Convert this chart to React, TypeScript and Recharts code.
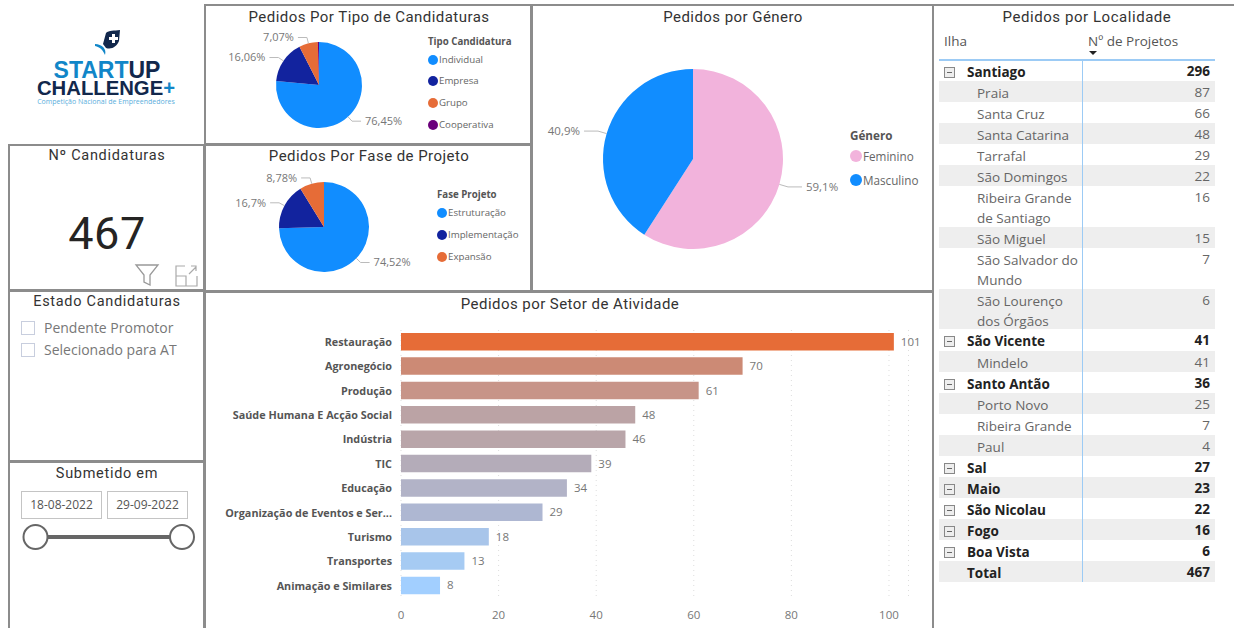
import {
  Bar,
  BarChart,
  CartesianGrid,
  Cell,
  LabelList,
  Legend,
  Pie,
  PieChart,
  XAxis,
  YAxis,
} from 'recharts';

const tipoNames = ['Individual', 'Empresa', 'Grupo', 'Cooperativa'];
const tipoValues = [357, 75, 33, 2];
const tipoLabels = ['76,45%', '16,06%', '7,07%', ''];
const tipoColors = ['#118DFF', '#12239E', '#E66C37', '#6B007B'];

const faseNames = ['Estruturação', 'Implementação', 'Expansão'];
const faseValues = [348, 78, 41];
const faseLabels = ['74,52%', '16,7%', '8,78%'];
const faseColors = ['#118DFF', '#12239E', '#E66C37'];

const generoNames = ['Feminino', 'Masculino'];
const generoValues = [276, 191];
const generoLabels = ['59,1%', '40,9%'];
const generoColors = ['#F2B3DC', '#118DFF'];

const setorNames = [
  'Restauração',
  'Agronegócio',
  'Produção',
  'Saúde Humana E Acção Social',
  'Indústria',
  'TIC',
  'Educação',
  'Organização de Eventos e Ser...',
  'Turismo',
  'Transportes',
  'Animação e Similares',
];
const setorValues = [101, 70, 61, 48, 46, 39, 34, 29, 18, 13, 8];
const setorColors = [
  '#E66C37',
  '#CC8A75',
  '#C79488',
  '#BBA3A5',
  '#B9A5A9',
  '#B4ACB9',
  '#B2B3C7',
  '#AEB7D2',
  '#A8C5EA',
  '#A6CBF3',
  '#A2CFFF',
];
const setorTicks = [0, 20, 40, 60, 80, 100];

const localNames = [
  'Santiago', 'Praia', 'Santa Cruz', 'Santa Catarina', 'Tarrafal', 'São Domingos',
  'Ribeira Grande de Santiago', 'São Miguel', 'São Salvador do Mundo', 'São Lourenço dos Órgãos',
  'São Vicente', 'Mindelo', 'Santo Antão', 'Porto Novo', 'Ribeira Grande', 'Paul',
  'Sal', 'Maio', 'São Nicolau', 'Fogo', 'Boa Vista', 'Total',
];
const localValues = [296, 87, 66, 48, 29, 22, 16, 15, 7, 6, 41, 41, 36, 25, 7, 4, 27, 23, 22, 16, 6, 467];
const ilhas = ['Santiago', 'São Vicente', 'Santo Antão', 'Sal', 'Maio', 'São Nicolau', 'Fogo', 'Boa Vista'];

const titleFont = 'Roboto, sans-serif';
const bodyFont = '"Open Sans", sans-serif';

const toRows = (names: string[], values: number[]) =>
  names.map((name, i) => ({ name, value: values[i] }));

// elbow leader + text, placed from the angle the pie gives us
const pieLabel = (texts: string[], elbow: number, run: number, size: number) => (p: any) => {
  const text = texts[p.index];
  if (!text) return null;
  const rad = (Math.PI / 180) * -p.midAngle;
  const sx = p.cx + p.outerRadius * Math.cos(rad);
  const sy = p.cy + p.outerRadius * Math.sin(rad);
  const ex = p.cx + (p.outerRadius + elbow) * Math.cos(rad);
  const ey = p.cy + (p.outerRadius + elbow) * Math.sin(rad);
  const right = Math.cos(rad) > 0;
  const hx = ex + (right ? run : -run);
  return (
    <g>
      <polyline points={`${sx},${sy} ${ex},${ey} ${hx},${ey}`} fill="none" stroke="#bbb" />
      <text
        x={hx + (right ? 4 : -4)}
        y={ey}
        dy="0.35em"
        textAnchor={right ? 'start' : 'end'}
        fontSize={size}
        fontFamily={bodyFont}
        fill="#777"
      >
        {text}
      </text>
    </g>
  );
};

const PieLegend = ({ title, names, colors, size, gap, titleH }: any) => (
  <div style={{ fontFamily: bodyFont, fontSize: size - 0.3, color: '#666', lineHeight: `${size + 2}px`, whiteSpace: 'nowrap' }}>
    <div style={{ fontWeight: 700, color: '#555', height: titleH }}>{title}</div>
    {names.map((name: string, i: number) => (
      <div key={name} style={{ display: 'flex', alignItems: 'center', height: gap }}>
        <span
          style={{
            width: size,
            height: size,
            borderRadius: '50%',
            background: colors[i],
            marginRight: 1,
          }}
        />
        {name}
      </div>
    ))}
  </div>
);

const PiePanel = (props: any) => {
  const { left, top, width, height, cx, cy, r, names, values, labels, colors, title, legendX, legendY, size, gap, titleH, elbow, run, labelSize } = props;
  return (
    <div style={{ position: 'absolute', left, top }}>
      <PieChart width={width} height={height} margin={{ top: 0, right: 0, bottom: 0, left: 0 }}>
        <Pie
          data={toRows(names, values)}
          dataKey="value"
          nameKey="name"
          cx={cx}
          cy={cy}
          outerRadius={r}
          startAngle={90}
          endAngle={-270}
          stroke="none"
          isAnimationActive={false}
          labelLine={false}
          label={pieLabel(labels, elbow, run, labelSize)}
        >
          {names.map((n: string, i: number) => (
            <Cell key={n} fill={colors[i]} />
          ))}
        </Pie>
        <Legend
          content={() => <PieLegend title={title} names={names} colors={colors} size={size} gap={gap} titleH={titleH} />}
          wrapperStyle={{ position: 'absolute', left: legendX, top: legendY, width: 'auto', bottom: 'auto' }}
        />
      </PieChart>
    </div>
  );
};

const Box = ({ x, y, w, h }: any) => (
  <div
    style={{
      position: 'absolute',
      left: x,
      top: y,
      width: w,
      height: h,
      boxSizing: 'border-box',
      border: '2px solid #8c8c8c',
    }}
  />
);

const Title = ({ cx, y, size = 15, spacing = 0.45, children }: any) => (
  <div
    style={{
      position: 'absolute',
      left: cx - 200,
      top: y - 11,
      width: 400,
      height: 24,
      lineHeight: '24px',
      textAlign: 'center',
      fontFamily: titleFont,
      fontSize: size,
      letterSpacing: spacing,
      color: '#333',
    }}
  >
    {children}
  </div>
);

const Logo = () => (
  <div style={{ position: 'absolute', left: 0, top: 0, width: 204, height: 144 }}>
    <svg width={204} height={144} style={{ position: 'absolute', left: 0, top: 0 }}>
      <path d="M106 33 C109 30 114 31 120 30 L119 41 C117 46 112 50 106 48 L103 44 Z" fill="#12284C" />
      <path d="M112 34 L115 34 L115 37 L118 37 L118 40 L115 40 L115 43 L112 43 L112 40 L109 40 L109 37 L112 37 Z" fill="#ffffff" />
      <path d="M95 44 C102 44 107 49 105 55 C103 50 100 47 95 46 Z" fill="#1186C8" />
    </svg>
    <div style={{ position: 'absolute', left: 0, top: 62, width: 214, textAlign: 'center', fontFamily: '"Liberation Sans", sans-serif', fontWeight: 700, fontSize: 23, lineHeight: '16px', color: '#1186C8' }}>
      START<span style={{ color: '#12284C' }}>UP</span>
    </div>
    <div style={{ position: 'absolute', left: 0, top: 80, width: 212, textAlign: 'center', fontFamily: '"Liberation Sans", sans-serif', fontWeight: 700, fontSize: 20.3, lineHeight: '16px', color: '#12284C' }}>
      CHALLENGE<span style={{ color: '#1186C8' }}>+</span>
    </div>
    <div style={{ position: 'absolute', left: 0, top: 97, width: 212, textAlign: 'center', fontFamily: bodyFont, fontSize: 7, lineHeight: '10px', color: '#5AAEDC' }}>
      Competição Nacional de Empreendedores
    </div>
  </div>
);

const Slicers = () => (
  <>
    {['Pendente Promotor', 'Selecionado para AT'].map((t, i) => (
      <div key={t} style={{ position: 'absolute', left: 21, top: 320 + i * 22, display: 'flex', alignItems: 'center', height: 15, fontFamily: bodyFont, fontSize: 14, color: '#777' }}>
        <span style={{ width: 14, height: 14, boxSizing: 'border-box', border: '1px solid #c8cede', marginRight: 9 }} />
        {t}
      </div>
    ))}
    {['18-08-2022', '29-09-2022'].map((t, i) => (
      <div key={t} style={{ position: 'absolute', left: 21 + i * 86, top: 491, width: 81, height: 28, boxSizing: 'border-box', border: '1px solid #c4c4c4', textAlign: 'center', lineHeight: '26px', fontFamily: bodyFont, fontSize: 12, color: '#555' }}>
        {t}
      </div>
    ))}
    <svg width={204} height={40} style={{ position: 'absolute', left: 0, top: 517 }}>
      <line x1={36} y1={20} x2={182} y2={20} stroke="#666" strokeWidth={4} />
      <circle cx={35.5} cy={20} r={12} fill="#fff" stroke="#666" strokeWidth={2} />
      <circle cx={182} cy={20} r={12} fill="#fff" stroke="#666" strokeWidth={2} />
    </svg>
  </>
);

const Icons = () => (
  <svg width={80} height={30} style={{ position: 'absolute', left: 130, top: 260 }}>
    <path d="M6 5 L28 5 L20 15 L20 25 L14 22 L14 15 Z" fill="none" stroke="#999" strokeWidth={1.3} />
    <path d="M46 16 L46 6 L55 6 M46 16 L56 16 L56 26 M46 16 L46 26 L67 26 L67 16 M59 14 L66 7 M61 6 L66 6 L66 11" fill="none" stroke="#aaa" strokeWidth={1.2} />
  </svg>
);

const rowHeights = (name: string) =>
  ['Ribeira Grande de Santiago', 'São Salvador do Mundo', 'São Lourenço dos Órgãos'].includes(name) ? 40.7 : 21.05;

const LocalTable = () => {
  let y = 60;
  return (
    <div style={{ position: 'absolute', left: 0, top: 0 }}>
      <div style={{ position: 'absolute', left: 944, top: 31, fontFamily: bodyFont, fontSize: 13.5, lineHeight: '20px', color: '#555', whiteSpace: 'nowrap' }}>Ilha</div>
      <div style={{ position: 'absolute', left: 1088, top: 31, fontFamily: bodyFont, fontSize: 13.5, lineHeight: '20px', color: '#555', whiteSpace: 'nowrap' }}>Nº de Projetos</div>
      <div style={{ position: 'absolute', left: 1089, top: 51, width: 0, height: 0, borderLeft: '4px solid transparent', borderRight: '4px solid transparent', borderTop: '4px solid #222' }} />
      {localNames.map((name, i) => {
        const h = rowHeights(name);
        const top = y;
        y += h;
        const bold = ilhas.includes(name) || name === 'Total';
        return (
          <div key={name + i} style={{ position: 'absolute', left: 939, top, width: 276, height: h, background: i % 2 === 1 ? '#EEEEEE' : 'transparent', fontFamily: bodyFont, fontSize: 13.5, lineHeight: '20px', color: bold ? '#222' : '#666', fontWeight: bold ? 700 : 400 }}>
            {ilhas.includes(name) && (
              <span style={{ position: 'absolute', left: 5, top: 7, width: 11, height: 11, boxSizing: 'border-box', border: '1px solid #888', background: '#eee' }}>
                <span style={{ position: 'absolute', left: 2, top: 4, width: 5, height: 1, background: '#666' }} />
              </span>
            )}
            <span style={{ position: 'absolute', left: bold ? 28 : 38, top: 2, width: bold ? 110 : 104 }}>{name}</span>
            <span style={{ position: 'absolute', right: 5, top: 1 }}>{localValues[i]}</span>
          </div>
        );
      })}
      <div style={{ position: 'absolute', left: 939, top: 59, width: 276, height: 1.5, background: '#9CCBF5' }} />
      <div style={{ position: 'absolute', left: 1081.5, top: 59, width: 1.5, height: 523, background: '#9CCBF5' }} />
    </div>
  );
};

// one-line category labels, the default tick wraps them
const SetorTick = ({ x, y, payload }: any) => (
  <text x={x} y={y} dy="0.35em" textAnchor="end" fontSize={10.8} fontFamily={bodyFont} fontWeight={700} fill="#555">
    {payload.value}
  </text>
);

const App = () => (
  <div style={{ position: 'absolute', left: 0, top: 0, width: 1234, height: 628, overflow: 'hidden', background: '#fff' }}>
    <Box x={8} y={144} w={197} h={147} />
    <Box x={8} y={290} w={197} h={172} />
    <Box x={8} y={461} w={197} h={169} />
    <Box x={204} y={4} w={328} h={141} />
    <Box x={204} y={144} w={328} h={148} />
    <Box x={531} y={4} w={403} h={288} />
    <Box x={204} y={291} w={730} h={339} />
    <div style={{ position: 'absolute', left: 933, top: 4, width: 301, height: 2, background: '#8c8c8c' }} />

    <Logo />
    <Title cx={107} y={155} size={14.5} spacing={0.7}>Nº Candidaturas</Title>
    <div style={{ position: 'absolute', left: 7, top: 206, width: 200, textAlign: 'center', fontFamily: titleFont, fontSize: 45, lineHeight: '56px', letterSpacing: 0.5, color: '#252423' }}>467</div>
    <Icons />
    <Title cx={107} y={301} size={14.5} spacing={0.7}>Estado Candidaturas</Title>
    <Title cx={107} y={473} size={14.5} spacing={0.7}>Submetido em</Title>
    <Slicers />

    <Title cx={369} y={16}>Pedidos Por Tipo de Candidaturas</Title>
    <PiePanel left={205} top={5} width={326} height={139} cx={114} cy={80} r={43} names={tipoNames} values={tipoValues} labels={tipoLabels} colors={tipoColors} title="Tipo Candidatura" legendX={223} legendY={31} size={10} gap={21.7} titleH={12.7} elbow={6} run={9} labelSize={11} />
    <Title cx={369} y={155}>Pedidos Por Fase de Projeto</Title>
    <PiePanel left={205} top={146} width={326} height={144} cx={119} cy={81} r={45} names={faseNames} values={faseValues} labels={faseLabels} colors={faseColors} title="Fase Projeto" legendX={232} legendY={43} size={10} gap={22} titleH={13} elbow={6} run={9} labelSize={11} />
    <Title cx={733} y={16}>Pedidos por Género</Title>
    <PiePanel left={533} top={6} width={399} height={284} cx={160} cy={153} r={90} names={generoNames} values={generoValues} labels={generoLabels} colors={generoColors} title="Género" legendX={317} legendY={122} size={12} gap={24} titleH={16} elbow={9} run={14} labelSize={11.5} />

    <Title cx={570} y={303}>Pedidos por Setor de Atividade</Title>
    <div style={{ position: 'absolute', left: 205, top: 291 }}>
      <BarChart
        width={728}
        height={337}
        layout="vertical"
        data={toRows(setorNames, setorValues)}
        margin={{ top: 39, right: 24.5, bottom: 0, left: 0 }}
      >
        <CartesianGrid horizontal={false} stroke="#ddd" strokeDasharray="1 4" />
        <XAxis
          type="number"
          domain={[0, 104]}
          ticks={setorTicks}
          height={30}
          axisLine={false}
          tickLine={false}
          tick={{ fontSize: 11.5, fontFamily: bodyFont, fill: '#777', dy: 5 }}
        />
        <YAxis
          type="category"
          dataKey="name"
          width={196}
          interval={0}
          axisLine={false}
          tickLine={false}
          tickMargin={3}
          tick={<SetorTick />}
        />
        <Bar dataKey="value" barSize={17.5} isAnimationActive={false}>
          {setorNames.map((n, i) => (
            <Cell key={n} fill={setorColors[i]} />
          ))}
          <LabelList dataKey="value" position="right" offset={7} style={{ fontSize: 11.5, fontFamily: bodyFont, fill: '#777' }} />
        </Bar>
      </BarChart>
    </div>

    <Title cx={1087} y={16} spacing={0.55}>Pedidos por Localidade</Title>
    <LocalTable />
  </div>
);

export default App;
